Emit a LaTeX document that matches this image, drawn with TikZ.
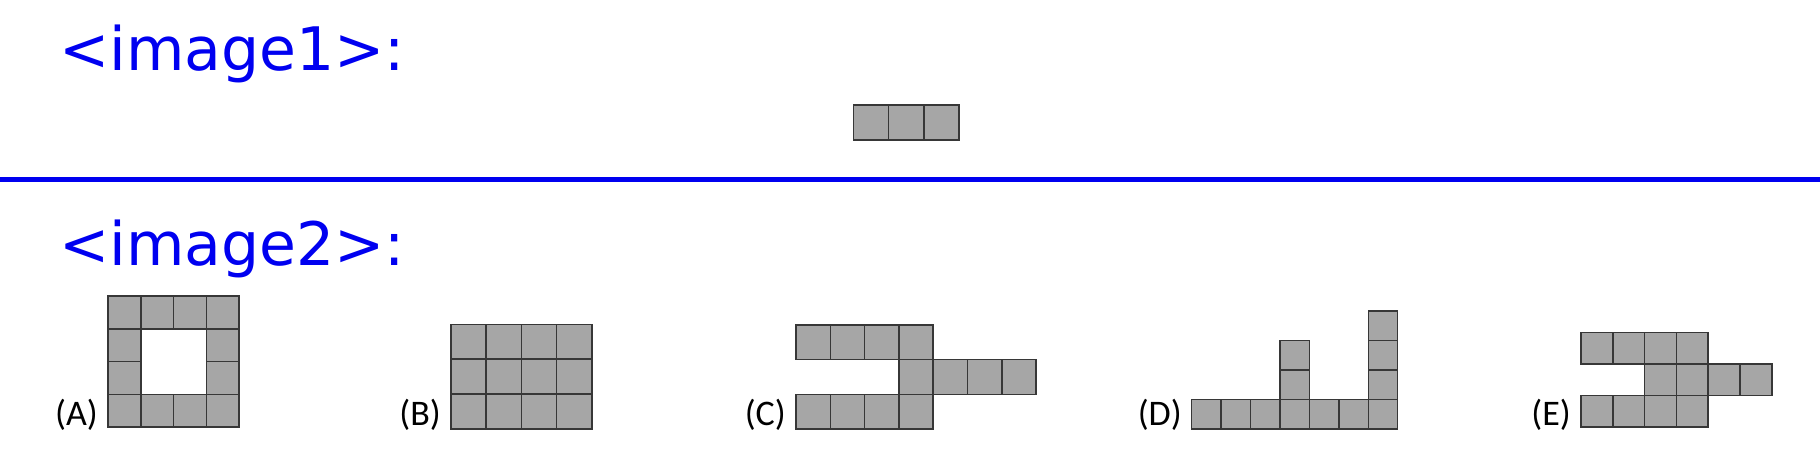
\documentclass[tikz,border=0pt]{standalone}
\usepackage{fontspec}
\newfontfamily\titlefont{DejaVu Sans}
\newfontfamily\labelfont{Carlito}
\definecolor{cellgray}{RGB}{166,166,166}
\definecolor{celledge}{RGB}{55,55,55}
\definecolor{headblue}{RGB}{0,0,240}
\tikzset{
  cellbox/.style={fill=cellgray,draw=celledge,line width=1.5pt},
  titletext/.style={anchor=base west,inner sep=0pt,text=headblue,font=\titlefont\fontsize{60}{72}\selectfont},
  optlabel/.style={anchor=base east,inner sep=0pt,font=\labelfont\fontsize{36}{43}\selectfont},
  rule/.style={draw=headblue,line width=4.4pt}
}
\begin{document}
\begin{tikzpicture}[x=1pt,y=-1pt]
\useasboundingbox (0,0) rectangle (1820,459);
% titles
\node[titletext] (t1) at (59,70.5) {<image1>:};
\node[titletext] (t2) at (59,265) {<image2>:};
% separator
\coordinate (ll) at (0,179.5);
\coordinate (lr) at (1820,179.5);
\draw[rule] (ll) -- (lr);
% image1: row of three
\foreach \c in {0,1,2}
  \draw[cellbox] ({853.5+35.2*\c},105) rectangle ++(35.2,35.2);
% (A) ring
\foreach \c/\r in {0/0,1/0,2/0,3/0,0/1,3/1,0/2,3/2,0/3,1/3,2/3,3/3}
  \draw[cellbox] ({108+32.75*\c},{296+32.75*\r}) rectangle ++(32.75,32.75);
% (B) 4x3
\foreach \c in {0,...,3}
  \foreach \r in {0,1,2}
    \draw[cellbox] ({451+35.2*\c},{324.3+34.9*\r}) rectangle ++(35.2,34.9);
% (C)
\foreach \c/\r in {0/0,1/0,2/0,3/0,3/1,4/1,5/1,6/1,0/2,1/2,2/2,3/2}
  \draw[cellbox] ({796+34.3*\c},{325+34.7*\r}) rectangle ++(34.3,34.7);
% (D)
\foreach \c/\r in {0/3,1/3,2/3,3/3,4/3,5/3,6/3,3/1,3/2,6/0,6/1,6/2}
  \draw[cellbox] ({1191.7+29.43*\c},{311+29.5*\r}) rectangle ++(29.43,29.5);
% (E)
\foreach \c/\r in {0/0,1/0,2/0,3/0,2/1,3/1,4/1,5/1,0/2,1/2,2/2,3/2}
  \draw[cellbox] ({1581+31.8*\c},{332.3+31.6*\r}) rectangle ++(31.8,31.6);
% labels
\node[optlabel] (labA) at (98,425) {(A)};
\node[optlabel] (labB) at (441,425) {(B)};
\node[optlabel] (labC) at (786,425) {(C)};
\node[optlabel] (labD) at (1182,425) {(D)};
\node[optlabel] (labE) at (1571,425) {(E)};
\end{tikzpicture}
\end{document}
